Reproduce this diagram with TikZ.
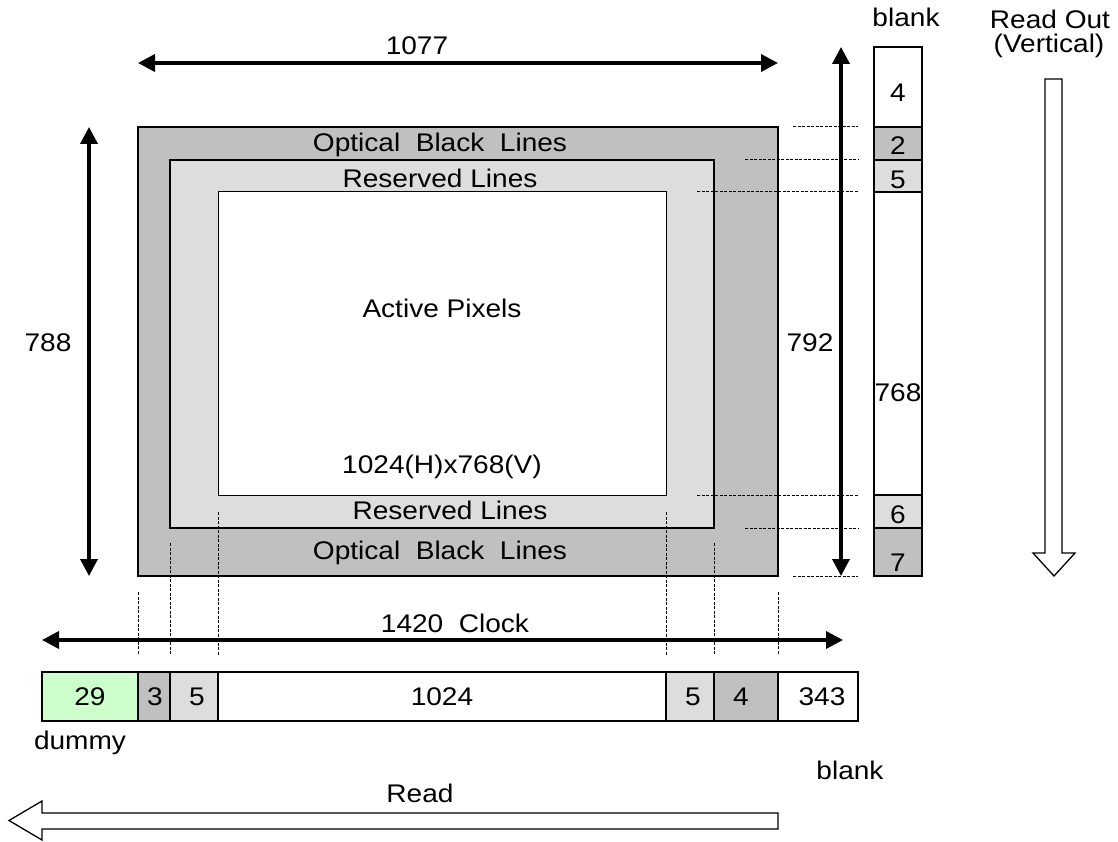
\documentclass[tikz,border=0pt]{standalone}
\usepackage{fontspec}
\setmainfont{Liberation Sans}[FakeStretch=1.1]
\usetikzlibrary{arrows.meta}
\definecolor{obgray}{HTML}{C0C0C0}
\definecolor{rsgray}{HTML}{DDDDDD}
\definecolor{dummygreen}{HTML}{CCFFCC}
\tikzset{
  box/.style={draw=black, line width=1.4pt, inner sep=0pt, outer sep=0pt},
  lbl/.style={inner sep=0pt, font=\fontsize{25.5}{28}\selectfont},
  dim/.style={line width=3.6pt, {Triangle[length=17pt,width=17pt]}-{Triangle[length=17pt,width=17pt]}},
  guide/.style={line width=1pt, dash pattern=on 3pt off 1.5pt},
  hollow/.style={draw=black, fill=white, line width=1.3pt, line join=miter},
}
\begin{document}
\begin{tikzpicture}[x=1pt, y=-1pt]
\useasboundingbox (0,0) rectangle (1118,842);

% sensor frames
\node[box, fill=obgray, minimum width=640pt, minimum height=449pt] (ob) at (458,351.5) {};
\node[box, fill=rsgray, minimum width=544pt, minimum height=368pt] (rs) at (442,344) {};
\node[box, line width=1pt, fill=white, minimum width=448pt, minimum height=303pt] (ap) at (442,343.5) {};

\node[lbl] (obt) at (440,145) {Optical\ \ Black\ \ Lines};
\node[lbl] (obb) at (440,553) {Optical\ \ Black\ \ Lines};
\node[lbl] (rst) at (440,178) {Reserved Lines};
\node[lbl] (rsb) at (450,510) {Reserved Lines};
\node[lbl] (apl) at (442,308) {Active Pixels};
\node[lbl] (res) at (442,467) {1024(H)x768(V)};

% dimension arrows
\coordinate (t1) at (138,63); \coordinate (t2) at (778,63);
\draw[dim] (t1) -- (t2);
\node[lbl] (l1077) at (417,46) {1077};

\coordinate (l1) at (89,127); \coordinate (l2) at (89,576);
\draw[dim] (l1) -- (l2);
\node[lbl] (l788) at (48,343) {788};

\coordinate (r1) at (841,47); \coordinate (r2) at (841,576);
\draw[dim] (r1) -- (r2);
\node[lbl] (l792) at (810,343) {792};

\coordinate (b1) at (42,640); \coordinate (b2) at (843,640);
\draw[dim] (b1) -- (b2);
\node[lbl] (l1420) at (455,623) {1420\ \ Clock};

% vertical column
\node[box, fill=white, minimum width=48pt, minimum height=80pt] (c4) at (898,87) {};
\node[box, fill=obgray, minimum width=48pt, minimum height=33pt] (c2) at (898,143.5) {};
\node[box, fill=rsgray, minimum width=48pt, minimum height=32pt] (c5) at (898,176) {};
\node[box, fill=white, minimum width=48pt, minimum height=303pt] (c768) at (898,343.5) {};
\node[box, fill=rsgray, minimum width=48pt, minimum height=33pt] (c6) at (898,511.5) {};
\node[box, fill=obgray, minimum width=48pt, minimum height=48pt] (c7) at (898,552) {};
\node[lbl] at (898,93) {4};
\node[lbl] at (898,146) {2};
\node[lbl] at (898,180) {5};
\node[lbl] at (898,393) {768};
\node[lbl] at (898,515) {6};
\node[lbl] at (898,563) {7};
\node[lbl] (blankt) at (906,17) {blank};

% horizontal guides
\coordinate (h1a) at (793,127); \coordinate (h1b) at (858,127);
\coordinate (h2a) at (745,160); \coordinate (h2b) at (858,160);
\coordinate (h3a) at (697,192); \coordinate (h3b) at (858,192);
\coordinate (h4a) at (697,495); \coordinate (h4b) at (858,495);
\coordinate (h5a) at (745,528); \coordinate (h5b) at (858,528);
\coordinate (h6a) at (793,576); \coordinate (h6b) at (858,576);
\foreach \g in {1,...,6} {\draw[guide] (h\g a) -- (h\g b);}

% vertical guides
\coordinate (v1a) at (138,592); \coordinate (v1b) at (138,655);
\coordinate (v2a) at (170,543); \coordinate (v2b) at (170,655);
\coordinate (v3a) at (218,512); \coordinate (v3b) at (218,655);
\coordinate (v4a) at (666,512); \coordinate (v4b) at (666,655);
\coordinate (v5a) at (714,543); \coordinate (v5b) at (714,655);
\coordinate (v6a) at (778,592); \coordinate (v6b) at (778,655);
\foreach \g in {1,...,6} {\draw[guide] (v\g a) -- (v\g b);}

% horizontal strip
\node[box, fill=dummygreen, minimum width=96pt, minimum height=49pt] (s29) at (90,696.5) {};
\node[box, fill=obgray, minimum width=32pt, minimum height=49pt] (s3) at (154,696.5) {};
\node[box, fill=rsgray, minimum width=48pt, minimum height=49pt] (s5a) at (194,696.5) {};
\node[box, fill=white, minimum width=448pt, minimum height=49pt] (s1024) at (442,696.5) {};
\node[box, fill=rsgray, minimum width=48pt, minimum height=49pt] (s5b) at (690,696.5) {};
\node[box, fill=obgray, minimum width=64pt, minimum height=49pt] (s4) at (746,696.5) {};
\node[box, fill=white, minimum width=80pt, minimum height=49pt] (s343) at (818,696.5) {};
\node[lbl] at (90,697) {29};
\node[lbl] at (155,697) {3};
\node[lbl] at (197,697) {5};
\node[lbl] at (442,697) {1024};
\node[lbl] at (693,697) {5};
\node[lbl] at (741,697) {4};
\node[lbl] at (822,697) {343};
\node[lbl] (dummy) at (80,743) {dummy};
\node[lbl] (blankb) at (850,770) {blank};

% read-out arrows
\node[lbl] (ro1) at (1050,19) {Read Out};
\node[lbl] (ro2) at (1049,46) {(Vertical)};
\draw[hollow] (1045,79) -- (1062,79) -- (1062,553) -- (1075,553) -- (1054,576)
  -- (1033,553) -- (1045,553) -- cycle;
\node[lbl] (rd) at (420,793) {Read};
\draw[hollow] (778,813) -- (778,829) -- (42,829) -- (42,840) -- (9,820.5)
  -- (42,801) -- (42,813) -- cycle;
\end{tikzpicture}
\end{document}
